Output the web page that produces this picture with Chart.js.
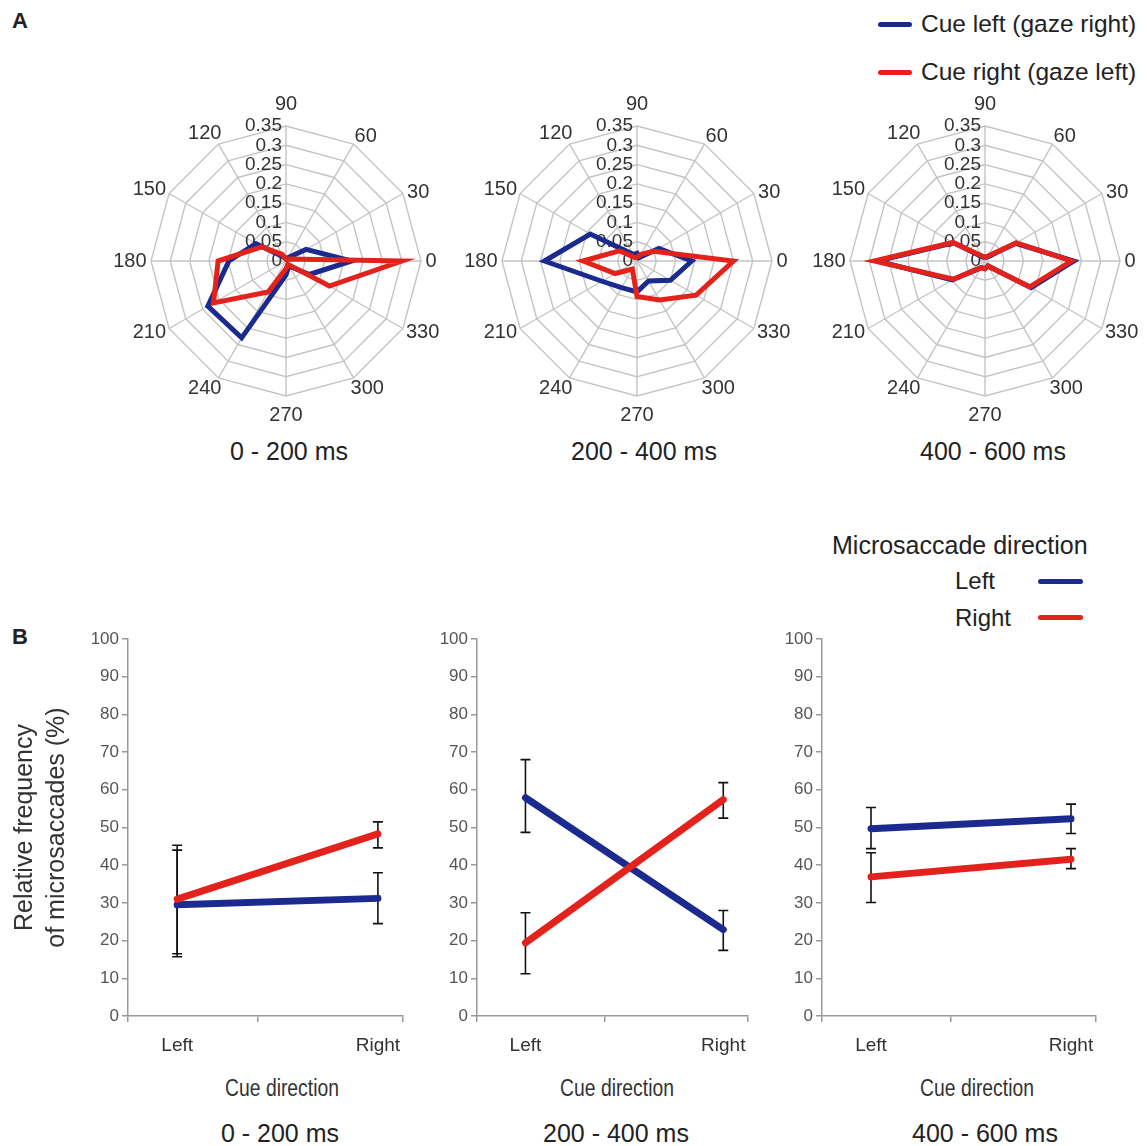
<!DOCTYPE html>
<html>
<head>
<meta charset="utf-8">
<script src="https://cdn.jsdelivr.net/npm/chart.js@4.4.1/dist/chart.umd.min.js"></script>
<style>
body { margin: 0; background: #fff; width: 1147px; height: 1146px; position: relative; overflow: hidden;
       font-family: 'Liberation Sans', Arial, sans-serif; color: #222; }
canvas { position: absolute; }
.t { position: absolute; white-space: nowrap; line-height: 1; }
.c { transform: translate(-50%, -50%); }
.l { transform: translate(0, -50%); }
.cn { transform: translate(-50%, -50%) scaleX(0.84); }
.key { position: absolute; height: 5px; border-radius: 3px; }
</style>
</head>
<body>

<div class="t c" style="left:20px;top:21px;font-size:22px;font-weight:bold;">A</div>
<div class="key" style="left:878px;top:22px;width:34px;background:#1b2a8e"></div>
<div class="t l" style="left:921px;top:24px;font-size:24.5px;">Cue left (gaze right)</div>
<div class="key" style="left:878px;top:70px;width:34px;background:#e3231b"></div>
<div class="t l" style="left:921px;top:72px;font-size:24.5px;">Cue right (gaze left)</div>

<div class="t c" style="left:289px;top:451px;font-size:25px;">0 - 200 ms</div>
<div class="t c" style="left:644px;top:451px;font-size:25px;">200 - 400 ms</div>
<div class="t c" style="left:993px;top:451px;font-size:25px;">400 - 600 ms</div>

<div class="t c" style="left:20px;top:637px;font-size:22px;font-weight:bold;">B</div>
<div class="t l" style="left:832px;top:545px;font-size:25px;">Microsaccade direction</div>
<div class="t l" style="left:955px;top:581px;font-size:24px;">Left</div>
<div class="key" style="left:1038px;top:579px;width:45px;background:#1b2a8e"></div>
<div class="t l" style="left:955px;top:618px;font-size:24px;">Right</div>
<div class="key" style="left:1038px;top:615px;width:45px;background:#e3231b"></div>

<div class="t cn" style="left:282px;top:1088px;font-size:23px;color:#333">Cue direction</div>
<div class="t cn" style="left:617px;top:1088px;font-size:23px;color:#333">Cue direction</div>
<div class="t cn" style="left:977px;top:1088px;font-size:23px;color:#333">Cue direction</div>
<div class="t c" style="left:280px;top:1133px;font-size:25px;">0 - 200 ms</div>
<div class="t c" style="left:616px;top:1133px;font-size:25px;">200 - 400 ms</div>
<div class="t c" style="left:985px;top:1133px;font-size:25px;">400 - 600 ms</div>

<script>
// --- A: polar direction plots (clockwise from the top, as Chart.js draws a radar) ---
const angleLabels = ['90', '60', '30', '0', '330', '300', '270', '240', '210', '180', '150', '120'];
const radarTicks = [0, 0.05, 0.1, 0.15, 0.2, 0.25, 0.3, 0.35];

const cueLeft_0_200   = [0.005, 0.01, 0.06, 0.17, 0.07, 0.015, 0.036, 0.23, 0.234, 0.148, 0.09, 0.012];
const cueRight_0_200  = [0.005, 0.005, 0.01, 0.30, 0.13, 0.01, 0.02, 0.093, 0.217, 0.176, 0.073, 0.02];
const cueLeft_200_400  = [0.02, 0.01, 0.065, 0.142, 0.10, 0.06, 0.08, 0.08, 0.105, 0.24, 0.14, 0.02];
const cueRight_200_400 = [0.01, 0.02, 0.05, 0.25, 0.177, 0.117, 0.092, 0.024, 0.065, 0.14, 0.053, 0.01];
const cueLeft_400_600  = [0.01, 0.012, 0.092, 0.23, 0.138, 0.015, 0.02, 0.02, 0.098, 0.28, 0.094, 0.012];
const cueRight_400_600 = [0.01, 0.015, 0.094, 0.224, 0.134, 0.015, 0.02, 0.02, 0.094, 0.287, 0.096, 0.015];

// --- B: relative frequency of microsaccades (%) ---
const categories = ['Left', 'Right'];
const catPos = [1, 2];
const yTicks = [0, 10, 20, 30, 40, 50, 60, 70, 80, 90, 100];

const left_0_200 = [29.5, 31.2],   left_0_200_lo = [15.7, 24.5],   left_0_200_hi = [44.0, 38.0];
const right_0_200 = [31.0, 48.3],  right_0_200_lo = [16.5, 44.6],  right_0_200_hi = [45.3, 51.5];
const left_200_400 = [57.9, 22.9], left_200_400_lo = [48.7, 17.4], left_200_400_hi = [68.0, 28.0];
const right_200_400 = [19.4, 57.4], right_200_400_lo = [11.2, 52.5], right_200_400_hi = [27.4, 61.9];
const left_400_600 = [49.7, 52.3], left_400_600_lo = [44.4, 48.4], left_400_600_hi = [55.3, 56.2];
const right_400_600 = [36.9, 41.6], right_400_600_lo = [30.1, 39.1], right_400_600_hi = [43.3, 44.4];

const BLUE = '#1b2a8e';
const RED = '#e3231b';
const GRID = '#c4c4c4';

Chart.defaults.font.family = "'Liberation Sans', Arial, sans-serif";
Chart.defaults.color = '#333';
Chart.defaults.animation = false;
Chart.defaults.plugins.legend.display = false;
Chart.defaults.plugins.tooltip.enabled = false;

function addCanvas(left, top, w, h) {
    const c = document.createElement('canvas');
    c.width = w; c.height = h;
    c.style.left = left + 'px'; c.style.top = top + 'px';
    c.style.width = w + 'px'; c.style.height = h + 'px';
    document.body.appendChild(c);
    return c.getContext('2d');
}

// tick values right aligned next to the 90 spoke, angle labels centred just outside the web
const radarLabels = {
    id: 'radarLabels',
    beforeDatasetsDraw(chart) {
        const s = chart.scales.r;
        const ctx = chart.ctx;
        ctx.save();
        ctx.fillStyle = '#333';
        ctx.textBaseline = 'middle';
        ctx.font = "19px 'Liberation Sans', Arial, sans-serif";
        ctx.textAlign = 'right';
        radarTicks.forEach(v => {
            ctx.fillText(String(v), s.xCenter - 4, s.yCenter - s.getDistanceFromCenterForValue(v));
        });
        ctx.font = "20px 'Liberation Sans', Arial, sans-serif";
        ctx.textAlign = 'center';
        angleLabels.forEach((lab, i) => {
            const u = s.getPointPosition(i, 1);
            const dx = u.x - s.xCenter, dy = u.y - s.yCenter;
            let phi = Math.atan2(dy, dx);
            const vertical = Math.abs(dx) < 0.01, horizontal = Math.abs(dy) < 0.01;
            // labels lean a little toward the horizontal, as in the original figure
            if (!vertical && !horizontal) phi -= Math.sign(dx) * Math.sign(dy) * 2.5 * Math.PI / 180;
            const w = ctx.measureText(lab).width;
            const extra = vertical ? (dy < 0 ? 14 : 11) : (horizontal ? 4.5 : 0.5);
            const dist = s.drawingArea + Math.abs(Math.cos(phi)) * w / 2 + Math.abs(Math.sin(phi)) * 8 + extra;
            ctx.fillText(lab, s.xCenter + Math.cos(phi) * dist, s.yCenter + Math.sin(phi) * dist);
        });
        ctx.restore();
    }
};

function makeRadar(left, top, cueLeft, cueRight) {
    const ctx = addCanvas(left, top, 350, 350);
    return new Chart(ctx, {
        type: 'radar',
        data: {
            labels: angleLabels,
            datasets: [
                { data: cueRight, borderColor: RED, order: 0 },
                { data: cueLeft, borderColor: BLUE, order: 1 }
            ]
        },
        options: {
            responsive: false,
            layout: { padding: 40 },
            elements: {
                line: { borderWidth: 5, fill: false, tension: 0, borderJoinStyle: 'miter' },
                point: { radius: 0 }
            },
            scales: {
                r: {
                    min: 0, max: 0.35,
                    afterBuildTicks: s => { s.ticks = radarTicks.map(v => ({ value: v })); },
                    ticks: { display: false },
                    grid: { circular: false, color: GRID, lineWidth: 1.4 },
                    angleLines: { color: GRID, lineWidth: 1.4 },
                    pointLabels: { display: false }
                }
            }
        },
        plugins: [radarLabels]
    });
}

makeRadar(111, 86, cueLeft_0_200, cueRight_0_200);
makeRadar(462, 86, cueLeft_200_400, cueRight_200_400);
makeRadar(810, 86, cueLeft_400_600, cueRight_400_600);

// error bars from each dataset's errLo / errHi arrays
const errorBars = {
    id: 'errorBars',
    beforeDatasetsDraw(chart) {
        const { ctx, scales: { x, y } } = chart;
        ctx.save();
        ctx.strokeStyle = '#111';
        ctx.lineWidth = 1.6;
        chart.data.datasets.forEach(ds => {
            ds.data.forEach((p, i) => {
                const px = x.getPixelForValue(p.x);
                const lo = y.getPixelForValue(ds.errLo[i]);
                const hi = y.getPixelForValue(ds.errHi[i]);
                ctx.beginPath();
                ctx.moveTo(px, lo); ctx.lineTo(px, hi);
                ctx.moveTo(px - 5, lo); ctx.lineTo(px + 5, lo);
                ctx.moveTo(px - 5, hi); ctx.lineTo(px + 5, hi);
                ctx.stroke();
            });
        });
        ctx.restore();
    }
};

const xMin = 0.755, xMax = 2.125, xMid = 1.4;

function series(vals, lo, hi, color, order) {
    return {
        data: catPos.map((x, i) => ({ x: x, y: vals[i] })),
        errLo: lo, errHi: hi,
        borderColor: color, borderWidth: 7, borderCapStyle: 'round',
        pointRadius: 0, order: order
    };
}

function makeLine(left, width, yWidth, withTitle, blueSet, redSet) {
    const ctx = addCanvas(left, 620, width, 480);
    return new Chart(ctx, {
        type: 'line',
        data: { datasets: [redSet, blueSet] },
        options: {
            responsive: false,
            layout: { padding: { top: 19, right: 10, left: 0, bottom: 0 } },
            scales: {
                x: {
                    type: 'linear', min: xMin, max: xMax,
                    afterBuildTicks: s => { s.ticks = [xMin, catPos[0], xMid, catPos[1], xMax].map(v => ({ value: v })); },
                    afterFit: s => { s.height = 84; },
                    border: { color: '#999', width: 1.5 },
                    grid: {
                        drawOnChartArea: false, tickLength: 6, lineWidth: 1.5,
                        tickColor: c => catPos.includes(c.tick.value) ? 'rgba(0,0,0,0)' : '#999'
                    },
                    ticks: {
                        autoSkip: false, maxRotation: 0, padding: 12, color: '#333',
                        font: { size: 19 },
                        callback: v => { const i = catPos.indexOf(v); return i >= 0 ? categories[i] : ''; }
                    }
                },
                y: {
                    min: 0, max: 100,
                    afterBuildTicks: s => { s.ticks = yTicks.map(v => ({ value: v })); },
                    afterFit: s => { s.width = yWidth; },
                    border: { color: '#999', width: 1.5 },
                    grid: { drawOnChartArea: false, tickLength: 6, color: '#999', lineWidth: 1.5 },
                    ticks: { padding: 3, color: '#555', font: { size: 17 } },
                    title: {
                        display: withTitle,
                        text: ['Relative frequency', 'of microsaccades (%)'],
                        font: { size: 25, lineHeight: 1.28 },
                        color: '#333',
                        padding: { top: 9, bottom: 0 }
                    }
                }
            }
        },
        plugins: [errorBars]
    });
}

makeLine(0, 415, 128, true,
    series(left_0_200, left_0_200_lo, left_0_200_hi, BLUE, 1),
    series(right_0_200, right_0_200_lo, right_0_200_hi, RED, 0));
makeLine(427, 333, 50, false,
    series(left_200_400, left_200_400_lo, left_200_400_hi, BLUE, 1),
    series(right_200_400, right_200_400_lo, right_200_400_hi, RED, 0));
makeLine(772, 336, 50, false,
    series(left_400_600, left_400_600_lo, left_400_600_hi, BLUE, 1),
    series(right_400_600, right_400_600_lo, right_400_600_hi, RED, 0));
</script>
</body>
</html>
